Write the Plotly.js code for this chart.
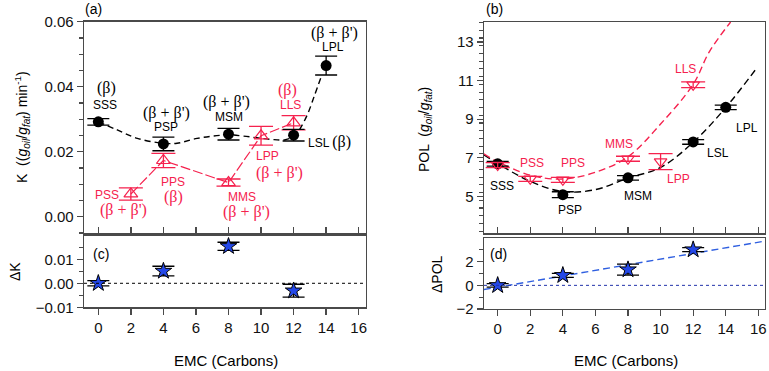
<!DOCTYPE html>
<html><head><meta charset="utf-8">
<script src="https://cdn.plot.ly/plotly-3.0.1.min.js"></script>
<style>html,body{margin:0;padding:0;background:#fff}#chart{width:769px;height:371px}</style>
</head><body><div id="chart"></div>
<script>
// ---------- data ----------
// Panel (a): K
const emcKBlack = [0, 4, 8, 12, 14];
const namesKBlack = ['SSS', 'PSP', 'MSM', 'LSL', 'LPL'];
const kBlack = [0.0292, 0.0224, 0.0254, 0.0251, 0.0465];
const kBlackErr = [0.0010, 0.0021, 0.0018, 0.0018, 0.0029];
const emcKRed = [2, 4, 8, 10, 12];
const namesKRed = ['PSS', 'PPS', 'MMS', 'LPP', 'LLS'];
const kRed = [0.0070, 0.0173, 0.0105, 0.0249, 0.0289];
const kRedErr = [0.0019, 0.0022, 0.0011, 0.0029, 0.0022];
// fitted black curve in (a)
const kCurveX = [0, 1.16, 2.4, 4.0, 4.84, 6.07, 8.0, 8.93, 10.57, 11.5, 12.1, 12.47, 12.88, 13.29, 13.7];
const kCurveY = [0.0292, 0.0267, 0.0241, 0.0226, 0.0226, 0.0241, 0.0252, 0.0248, 0.0238, 0.0237, 0.0250, 0.0277, 0.0318, 0.0374, 0.0431];

// Panel (b): POL
const emcPBlack = [0, 4, 8, 12, 14];
const polBlack = [6.69, 5.09, 5.96, 7.82, 9.61];
const polBlackErr = [0.12, 0.15, 0.12, 0.12, 0.12];
const emcPRed = [0, 2, 4, 8, 10, 12];
const polRed = [6.62, 5.91, 5.86, 6.95, 6.80, 10.78];
const polRedErr = [0.13, 0.13, 0.13, 0.13, 0.41, 0.15];
const polBlackCurveX = [-0.85, 0, 2, 4, 6, 8, 10, 12, 14, 15.95];
const polBlackCurveY = [7.15, 6.70, 5.78, 5.25, 5.35, 5.95, 6.50, 7.80, 9.60, 11.70];
const polRedCurveX = [-0.85, 0, 2, 4, 6, 8, 10, 12, 13, 14.3];
const polRedCurveY = [7.20, 6.80, 6.10, 5.90, 6.25, 7.05, 8.75, 10.80, 12.50, 14.03];

// Panel (c): delta K ; Panel (d): delta POL
const emcDelta = [0, 4, 8, 12];
const deltaK = [0.0, 0.0051, 0.0154, -0.0031];
const deltaKErr = [0.0011, 0.0020, 0.0017, 0.0027];
const deltaPOL = [0.0, 0.85, 1.33, 3.02];
const deltaPOLErr = [0.15, 0.17, 0.47, 0.17];
const dPolFitX = [-0.85, 16.3];
const dPolFitY = [-0.36, 3.72];

// ---------- styles ----------
const RED = '#f5224e';
const BLUE = '#2f5fe0';
const STARFILL = '#2448e8';
const AX = '#4a4a4a';
const SANS = 'Liberation Sans';
const SERIF = 'Liberation Serif';

const traces = [];
// (a)
traces.push({x: kCurveX, y: kCurveY, xaxis: 'x', yaxis: 'y', mode: 'lines', line: {shape: 'spline', color: '#000', width: 1.4, dash: '6px,4px'}, hoverinfo: 'skip'});
traces.push({x: emcKRed, y: kRed, xaxis: 'x', yaxis: 'y', mode: 'lines+markers', line: {color: RED, width: 1.2, dash: '10px,3px'},
  marker: {symbol: 'triangle-up-open', size: 12, color: RED, line: {width: 1.2, color: RED}},
  error_y: {type: 'data', array: kRedErr, color: RED, thickness: 1.3, width: 12}});
traces.push({x: emcKBlack, y: kBlack, xaxis: 'x', yaxis: 'y', mode: 'markers',
  marker: {symbol: 'circle', size: 11, color: '#000'},
  error_y: {type: 'data', array: kBlackErr, color: '#000', thickness: 1.3, width: 11}});
// (c)
traces.push({x: emcDelta, y: deltaK, xaxis: 'x3', yaxis: 'y3', mode: 'markers',
  marker: {symbol: 'star', size: 12.5, color: STARFILL, line: {width: 1, color: '#000'}},
  error_y: {type: 'data', array: deltaKErr, color: '#000', thickness: 1.3, width: 11}});
// (b)
traces.push({x: polBlackCurveX, y: polBlackCurveY, xaxis: 'x2', yaxis: 'y2', mode: 'lines', line: {shape: 'spline', color: '#000', width: 1.4, dash: '7px,4px'}, hoverinfo: 'skip'});
traces.push({x: polRedCurveX, y: polRedCurveY, xaxis: 'x2', yaxis: 'y2', mode: 'lines', line: {shape: 'spline', color: RED, width: 1.4, dash: '7px,4px'}, hoverinfo: 'skip'});
traces.push({x: emcPBlack, y: polBlack, xaxis: 'x2', yaxis: 'y2', mode: 'markers',
  marker: {symbol: 'circle', size: 11, color: '#000'},
  error_y: {type: 'data', array: polBlackErr, color: '#000', thickness: 1.3, width: 11}});
traces.push({x: emcPRed, y: polRed, xaxis: 'x2', yaxis: 'y2', mode: 'markers',
  marker: {symbol: 'triangle-down-open', size: 11, color: RED, line: {width: 1.2, color: RED}},
  error_y: {type: 'data', array: polRedErr, color: RED, thickness: 1.3, width: 12}});
// (d)
traces.push({x: dPolFitX, y: dPolFitY, xaxis: 'x4', yaxis: 'y4', mode: 'lines', line: {color: BLUE, width: 1.4, dash: '7px,4px'}, hoverinfo: 'skip'});
traces.push({x: emcDelta, y: deltaPOL, xaxis: 'x4', yaxis: 'y4', mode: 'markers',
  marker: {symbol: 'star', size: 12.5, color: STARFILL, line: {width: 1, color: '#000'}},
  error_y: {type: 'data', array: deltaPOLErr, color: '#000', thickness: 1.3, width: 11}});

const tickFont = {family: SANS, size: 15, color: '#111'};
function xax(domain, anchor, range, labels, ticks) {
  return {domain, anchor, range, showline: true, mirror: true, linecolor: AX, linewidth: 1.3,
    ticks, ticklen: 6, tickcolor: AX, tickwidth: 1.3, tick0: 0, dtick: 2, showticklabels: labels,
    showgrid: false, zeroline: false, tickfont: tickFont, fixedrange: true};
}
function yax(domain, anchor, range, dtick, minor, fmt, tick0) {
  return {domain, anchor, range, showline: true, mirror: true, linecolor: AX, linewidth: 1.3,
    ticks: 'outside', ticklen: 6, tickcolor: AX, tickwidth: 1.3, dtick, tick0, tickformat: fmt,
    minor: {ticks: 'outside', ticklen: 3.5, dtick: minor, tickcolor: AX, tickwidth: 1.1, showgrid: false},
    showgrid: false, zeroline: false, tickfont: tickFont, fixedrange: true};
}
const W = 769, H = 371;
const px = v => v / W, py = v => 1 - v / H;

const layout = {
  width: W, height: H, margin: {l: 0, r: 0, t: 0, b: 0}, showlegend: false,
  paper_bgcolor: '#fff', plot_bgcolor: '#fff',
  xaxis: xax([px(84), px(366)], 'y', [-0.88, 16.45], false, 'inside'),
  yaxis: yax([py(233.3), py(21.7)], 'x', [-0.0051, 0.06], 0.02, 0.005, '.2f', 0),
  xaxis3: xax([px(84), px(366)], 'y3', [-0.88, 16.45], true, 'outside'),
  yaxis3: yax([py(307.3), py(236)], 'x3', [-0.01, 0.0197], 0.01, 0.005, '.2f', 0),
  xaxis2: xax([px(484), px(765)], 'y2', [-0.84, 16.41], false, 'inside'),
  yaxis2: yax([py(233.3), py(22)], 'x2', [3.09, 14.03], 2, 0.4, null, 1),
  xaxis4: xax([px(484), px(765)], 'y4', [-0.84, 16.41], true, 'outside'),
  yaxis4: yax([py(309), py(238.3)], 'x4', [-2, 3.98], 2, 1, null, 0),
  shapes: [
    {type: 'line', xref: 'x3 domain', yref: 'y3', x0: 0, x1: 1, y0: 0, y1: 0, line: {color: '#000', width: 1, dash: 'dot'}},
    {type: 'line', xref: 'x4 domain', yref: 'y4', x0: 0, x1: 1, y0: 0, y1: 0, line: {color: '#2233aa', width: 1, dash: 'dot'}}
  ],
  annotations: []
};

function ann(text, x, y, xref, yref, font, extra) {
  layout.annotations.push(Object.assign({text, x, y, xref, yref, showarrow: false, font, xanchor: 'center', yanchor: 'middle'}, extra || {}));
}
const lab = c => ({family: SANS, size: 12, color: c});
const bet = c => ({family: SANS, size: 16, color: c});
const serifSpan = t => "<span style='font-family:Liberation Serif'>" + t + "</span>";
const B1 = serifSpan('(β)');
const BB = serifSpan("(β + β')");
// panel letters
ann('(a)', px(93), py(9), 'paper', 'paper', {family: SANS, size: 14, color: '#000'});
ann('(b)', px(495), py(9), 'paper', 'paper', {family: SANS, size: 14, color: '#000'});
ann('(c)', px(101), py(254), 'paper', 'paper', {family: SANS, size: 14, color: '#000'});
ann('(d)', px(498), py(254), 'paper', 'paper', {family: SANS, size: 14, color: '#000'});
// (a) black labels
ann(B1, 0.5, 0.0395, 'x', 'y', bet('#000'));
ann('SSS', 0.42, 0.0343, 'x', 'y', lab('#000'));
ann(BB, 4.19, 0.0318, 'x', 'y', bet('#000'));
ann('PSP', 4.13, 0.0277, 'x', 'y', lab('#000'));
ann(BB, 7.9, 0.0354, 'x', 'y', bet('#000'));
ann('MSM', 8.0, 0.0308, 'x', 'y', lab('#000'));
ann(BB, 14.5, 0.0565, 'x', 'y', bet('#000'));
ann('LPL', 14.45, 0.0523, 'x', 'y', lab('#000'));
ann("LSL <span style='font-family:Liberation Serif;font-size:16px'>(β)</span>", 14.2, 0.0231, 'x', 'y', lab('#000'));
// (a) red labels
ann(B1, 11.65, 0.039, 'x', 'y', bet(RED));
ann('LLS', 11.8, 0.0344, 'x', 'y', lab(RED));
ann('PSS', 0.52, 0.0067, 'x', 'y', lab(RED));
ann(BB, 1.55, 0.0021, 'x', 'y', bet(RED));
ann('PPS', 4.6, 0.0108, 'x', 'y', lab(RED));
ann(B1, 4.6, 0.0062, 'x', 'y', bet(RED));
ann('MMS', 8.8, 0.0062, 'x', 'y', lab(RED));
ann(BB, 9.1, 0.0015, 'x', 'y', bet(RED));
ann('LPP', 10.42, 0.0187, 'x', 'y', lab(RED));
ann(BB, 11.15, 0.0134, 'x', 'y', bet(RED));
// (b) labels
ann('SSS', 0.25, 5.52, 'x2', 'y2', lab('#000'));
ann('PSP', 4.44, 4.31, 'x2', 'y2', lab('#000'));
ann('MSM', 8.63, 5.0, 'x2', 'y2', lab('#000'));
ann('LSL', 13.54, 7.26, 'x2', 'y2', lab('#000'));
ann('LPL', 15.29, 8.52, 'x2', 'y2', lab('#000'));
ann('PSS', 2.09, 6.74, 'x2', 'y2', lab(RED));
ann('PPS', 4.6, 6.74, 'x2', 'y2', lab(RED));
ann('MMS', 7.46, 7.7, 'x2', 'y2', lab(RED));
ann('LPP', 11.09, 5.91, 'x2', 'y2', lab(RED));
ann('LLS', 11.5, 11.61, 'x2', 'y2', lab(RED));
// axis titles
const it = (t, s) => "<span style='font-style:italic;font-size:" + s + "px'>" + t + "</span>";
const gRatio = it('g', 14) + '<sub>' + it('oil', 10) + '</sub>/' + it('g', 14) + '<sub>' + it('fat', 10) + '</sub>';
ann('K  ((' + gRatio + ') min<sup>-1</sup>)', px(22), py(127), 'paper', 'paper', {family: SANS, size: 14, color: '#000'}, {textangle: -90});
ann('POL  (' + gRatio + ')', px(425), py(130), 'paper', 'paper', {family: SANS, size: 14, color: '#000'}, {textangle: -90});
ann('ΔK', px(15), py(272), 'paper', 'paper', {family: SANS, size: 14, color: '#000'}, {textangle: -90});
ann('ΔPOL', px(437), py(274), 'paper', 'paper', {family: SANS, size: 14, color: '#000'}, {textangle: -90});
ann('EMC (Carbons)', px(226), py(360), 'paper', 'paper', {family: SANS, size: 15, color: '#000'});
ann('EMC (Carbons)', px(626), py(360), 'paper', 'paper', {family: SANS, size: 15, color: '#000'});

Plotly.newPlot('chart', traces, layout, {displayModeBar: false, staticPlot: true});
</script></body></html>
